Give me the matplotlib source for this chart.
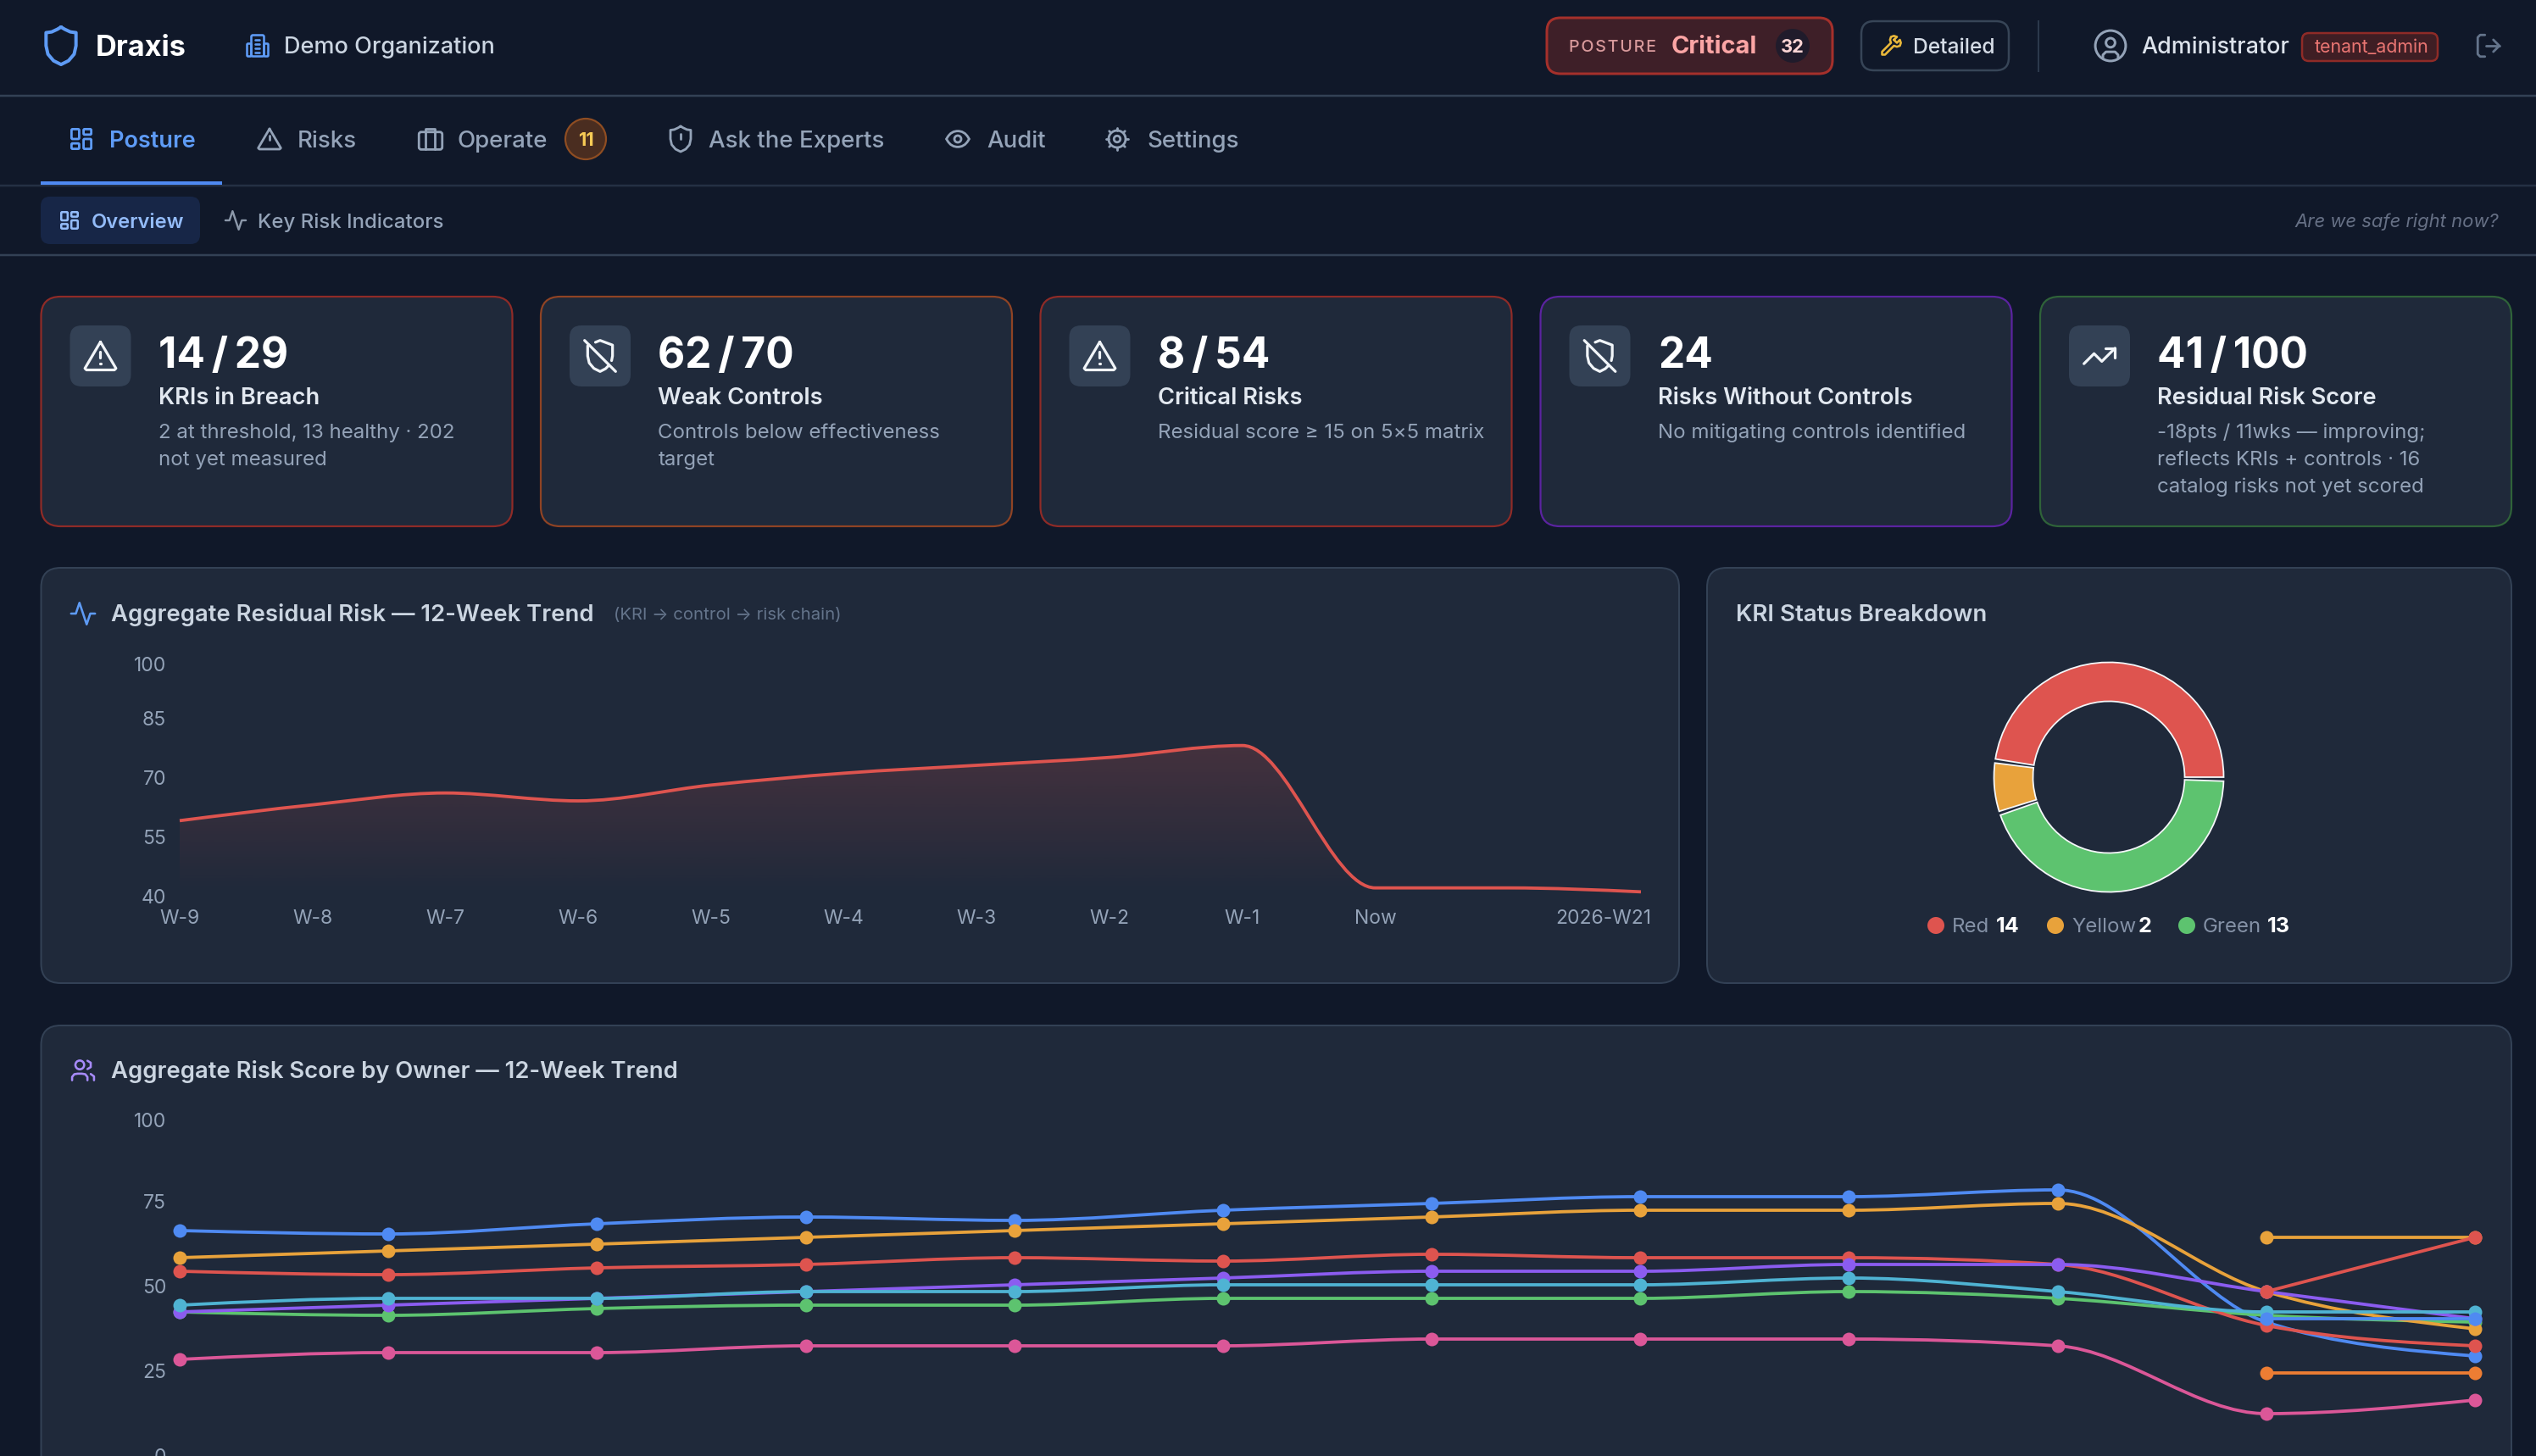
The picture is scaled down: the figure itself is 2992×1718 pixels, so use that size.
import numpy as np
import matplotlib
matplotlib.use("Agg")
import matplotlib.pyplot as plt
from matplotlib.patches import FancyBboxPatch, Circle, PathPatch, Wedge
from matplotlib.path import Path
from matplotlib.transforms import ScaledTranslation
from matplotlib.colors import to_rgb

# ---------- data ----------
residual_labels = ["W-9", "W-8", "W-7", "W-6", "W-5", "W-4", "W-3", "W-2", "W-1", "Now", "", "2026-W21"]
residual_values = [59, 63, 66, 64, 68, 71, 73, 75, 78, 42, 42, 41]
residual_yticks = [40, 55, 70, 85, 100]

kri_names = ["Red", "Yellow", "Green"]
kri_counts = [14, 2, 13]
kri_colors = ["#DE544F", "#E8A23B", "#5DC36F"]

owner_yticks = [0, 25, 50, 75, 100]
n = np.nan
owner_blue = [66, 65, 68, 70, 69, 72, 74, 76, 76, 78, 39, 29]
owner_green = [42, 41, 43, 44, 44, 46, 46, 46, 48, 46, 41, 39]
owner_pink = [28, 30, 30, 32, 32, 32, 34, 34, 34, 32, 12, 16]
owner_amber = [58, 60, 62, 64, 66, 68, 70, 72, 72, 74, 48, 37]
owner_red = [54, 53, 55, 56, 58, 57, 59, 58, 58, 56, 38, 32]
owner_purple = [42, 44, 46, 48, 50, 52, 54, 54, 56, 56, 48, 40]
owner_cyan = [44, 46, 46, 48, 48, 50, 50, 50, 52, 48, 42, 42]
owner_orange = [n, n, n, n, n, n, n, n, n, n, 24, 24]
owner_amber2 = [n, n, n, n, n, n, n, n, n, n, 64, 64]
owner_red2 = [n, n, n, n, n, n, n, n, n, n, 48, 64]
owner_blue2 = [n, n, n, n, n, n, n, n, n, n, 40, 40]

card_titles = ["14\u2009/\u200929", "62\u2009/\u200970", "8\u2009/\u200954", "24", "41\u2009/\u2009100"]
card_labels = ["KRIs in Breach", "Weak Controls", "Critical Risks", "Risks Without Controls", "Residual Risk Score"]
card_subs = [["2 at threshold, 13 healthy · 202", "not yet measured"],
             ["Controls below effectiveness", "target"],
             ["Residual score ≥ 15 on 5×5 matrix"],
             ["No mitigating controls identified"],
             ["-18pts / 11wks — improving;", "reflects KRIs + controls · 16", "catalog risks not yet scored"]]
card_edges = ["#8F2B27", "#8F4324", "#8F2B27", "#5B23A0", "#2F6339"]
card_icons = ["alert", "shieldoff", "alert", "shieldoff", "trend"]

# ---------- setup ----------
W, H = 2992, 1718
DPI = 100
PT = 72 / DPI
BG = "#101829"
CARD = "#1F293A"
LINE = "#334155"
plt.rcParams["font.family"] = ["Inter", "DejaVu Sans"]

fig = plt.figure(figsize=(W / DPI, H / DPI), dpi=DPI, facecolor=BG)
ov = fig.add_axes([0, 0, 1, 1], zorder=0)
ov.set_xlim(0, W)
ov.set_ylim(H, 0)
ov.axis("off")


def css(px):
    """CSS px at the screenshot's scale, to points."""
    return px * 1.908 * PT


def T(x, y, s, size, color, weight="normal", ha="left", **kw):
    return ov.text(x, y, s, fontsize=css(size), color=color, fontweight=weight, ha=ha, va="baseline", **kw)


def box(x0, y0, x1, y1, r, fc, ec="none", lw=1.9):
    p = FancyBboxPatch((x0, y0), x1 - x0, y1 - y0, boxstyle=f"round,pad=0,rounding_size={r}",
                       fc=fc, ec=ec, lw=lw * PT)
    ov.add_patch(p)
    return p


def hline(y, x0=0, x1=W, c=LINE, lw=2):
    ov.plot([x0, x1], [y, y], color=c, lw=lw * PT, solid_capstyle="butt")


M, L, C = Path.MOVETO, Path.LINETO, Path.CURVE4


def stroke(cx, cy, size, color, lw, polys=(), circles=(), rects=(), curves=()):
    k = size / 24
    def tx(p):
        return (cx + (p[0] - 12) * k, cy + (p[1] - 12) * k)
    for pl in polys:
        xs, ys = zip(*[tx(p) for p in pl])
        ov.plot(xs, ys, color=color, lw=lw * PT, solid_capstyle="round", solid_joinstyle="round")
    for (x, y, r) in circles:
        c = tx((x, y))
        ov.add_patch(Circle(c, r * k, fc="none", ec=color, lw=lw * PT))
    for (x, y, w, h, r) in rects:
        a = tx((x, y))
        ov.add_patch(FancyBboxPatch(a, w * k, h * k, boxstyle=f"round,pad=0,rounding_size={r * k}",
                                    fc="none", ec=color, lw=lw * PT))
    for cv in curves:
        v = [tx(p) for p in cv]
        codes = [M] + [C] * (len(v) - 1)
        ov.add_patch(PathPatch(Path(v, codes), fc="none", ec=color, lw=lw * PT, capstyle="round"))


SHIELD = [(12, 2), (14, 3.2), (17, 4.6), (20, 5), (20, 12), (19, 16.5), (16, 20), (12, 22), (8, 20), (5, 16.5), (4, 12), (4, 5), (7, 4.6), (10, 3.2), (12, 2)]
TRI = [(12, 3), (22, 20), (21, 21), (3, 21), (2, 20), (12, 3)]
ICONS = {
    "shield": dict(polys=[SHIELD]),
    "grid": dict(rects=[(3, 3, 7, 9, 1), (14, 3, 7, 5, 1), (14, 12, 7, 9, 1), (3, 16, 7, 5, 1)]),
    "alert": dict(polys=[TRI, [(12, 9), (12, 13)], [(12, 17), (12.01, 17)]]),
    "case": dict(rects=[(2, 6, 20, 15, 2)], polys=[[(8, 6), (8, 3), (16, 3), (16, 6)], [(8, 6), (8, 21)], [(16, 6), (16, 21)]]),
    "shieldalert": dict(polys=[SHIELD, [(12, 8), (12, 12)], [(12, 16), (12.01, 16)]]),
    "shieldoff": dict(polys=[[(9, 3.2), (12, 2), (20, 5), (20, 12), (19.4, 15)], [(5, 5), (4, 5.5), (4, 12), (5, 16.5), (8, 20), (12, 22), (15.5, 20.2), (17.5, 18.2)], [(2, 2), (22, 22)]]),
    "trend": dict(polys=[[(2, 17), (8.5, 10.5), (13.5, 15.5), (22, 7)], [(16, 7), (22, 7), (22, 13)]]),
    "activity": dict(polys=[[(22, 12), (18, 12), (15, 21), (9, 3), (6, 12), (2, 12)]]),
    "eye": dict(curves=[[(2, 12), (5, 6), (9, 5), (12, 5), (15, 5), (19, 6), (22, 12)], [(2, 12), (5, 18), (9, 19), (12, 19), (15, 19), (19, 18), (22, 12)]], circles=[(12, 12, 3)]),
    "gear": dict(circles=[(12, 12, 3), (12, 12, 8)], polys=[[(12, 1.5), (12, 4)], [(12, 20), (12, 22.5)], [(1.5, 12), (4, 12)], [(20, 12), (22.5, 12)], [(4.6, 4.6), (6.3, 6.3)], [(17.7, 17.7), (19.4, 19.4)], [(4.6, 19.4), (6.3, 17.7)], [(17.7, 6.3), (19.4, 4.6)]]),
    "building": dict(rects=[(6, 2, 12, 20, 1.5), (2, 10, 4, 12, 1), (18, 10, 4, 12, 1)], polys=[[(10, 6), (14, 6)], [(10, 10), (14, 10)], [(10, 14), (14, 14)], [(10, 18), (14, 18)]]),
    "user": dict(circles=[(12, 12, 10), (12, 10, 3)], polys=[[(7, 20), (7, 18), (9, 16), (15, 16), (17, 18), (17, 20)]]),
    "wrench": dict(polys=[[(15, 6), (18, 3), (15, 2), (12, 3), (11, 6), (12, 9), (3, 18), (3, 21), (6, 21), (15, 12), (18, 13), (21, 12), (22, 9), (21, 6), (18, 9), (15, 6)]]),
    "logout": dict(polys=[[(9, 3), (5, 3), (3, 5), (3, 19), (5, 21), (9, 21)], [(10, 12), (21, 12)], [(16, 7), (21, 12), (16, 17)]]),
}


def icon(name, cx, cy, size, color, lw=3.6):
    stroke(cx, cy, size, color, lw, **ICONS[name])


# ---------- header ----------
hline(113, lw=2.5)
hline(219, c="#243044", lw=2.5)
hline(301, lw=2.5)
icon("shield", 72, 54, 53, "#5E9BF5", 4)
T(113, 66, "Draxis", 18, "#FFFFFF", "bold")
icon("building", 304, 54, 30, "#5E9BF5", 2.6)
T(335, 63, "Demo Organization", 14.2, "#CBD5E1", "medium")

ov.add_patch(plt.Rectangle((48, 214), 214, 4, fc="#4F8AF2", ec="none", zorder=3))
icon("grid", 96, 164, 31, "#5E9BF5", 2.8)
T(129, 174, "Posture", 14.2, "#5E9BF5", "semibold")
icon("alert", 318, 164, 32, "#94A3B8", 2.8)
T(351, 174, "Risks", 14.5, "#94A3B8", "medium")
icon("case", 508, 164, 33, "#94A3B8", 2.8)
T(540, 174, "Operate", 14.5, "#94A3B8", "medium")
ov.add_patch(Circle((691, 164), 24, fc="#4A2D20", ec="#8F4D22", lw=2.2 * PT))
T(691, 172, "11", 11.5, "#F8CB55", "bold", ha="center")
icon("shieldalert", 803, 164, 36, "#94A3B8", 2.8)
T(836, 174, "Ask the Experts", 14.5, "#94A3B8", "medium")
icon("eye", 1130, 164, 32, "#94A3B8", 2.8)
T(1164, 174, "Audit", 14.5, "#94A3B8", "medium")
icon("gear", 1318, 164, 30, "#94A3B8", 2.8)
T(1353, 174, "Settings", 14.5, "#94A3B8", "medium")

box(48, 232, 236, 288, 11, "#172647")
icon("grid", 82, 260, 26, "#93BBF8", 2.5)
T(108, 269, "Overview", 12.4, "#93BBF8", "semibold")
icon("activity", 278, 260, 29, "#8C98AA", 2.4)
T(304, 269, "Key Risk Indicators", 12.6, "#94A3B8", "medium")
T(2948, 268, "Are we safe right now?", 11.55, "#667085", ha="right", style="italic")

box(1825, 21, 2162, 87, 16, "#3E1F28", "#A5302B", 3)
T(1851, 61, "\u200aP\u200aO\u200aS\u200aT\u200aU\u200aR\u200aE".lstrip(), 10.3, "#D99A9C", "medium")
T(1972, 63, "Critical", 15.2, "#FBA5A5", "bold")
ov.add_patch(Circle((2115, 54), 20, fc="#201B2B", ec="none"))
T(2115, 62, "32", 11.5, "#FBD5D5", "bold", ha="center")
box(2196, 25, 2370, 83, 15, "none", "#374557", 2.5)
icon("wrench", 2231, 54, 28, "#EAB83A", 2.6)
T(2257, 63, "Detailed", 12.9, "#D5DCE6", "medium")
ov.plot([2405, 2405], [25, 84], color="#2C394C", lw=2 * PT)
icon("user", 2490, 54, 43, "#94A3B8", 3)
T(2526, 63, "Administrator", 14.1, "#DDE3EC", "medium")
box(2716, 39, 2876, 72, 8, "#3F1E24", "#8F2B27", 2.5)
T(2731, 62, "tenant_admin", 11.2, "#E97572")
icon("logout", 2936, 54, 34, "#64748B", 2.8)

# ---------- KPI cards ----------
card_x = [48.5, 638, 1227.5, 1817.5, 2407]
for i, x in enumerate(card_x):
    box(x, 350, x + 556, 621, 23, CARD, card_edges[i], 2.2)
    box(x + 34, 384, x + 106, 456, 14, "#334155")
    icon(card_icons[i], x + 70, 420, 44, "#F1F5F9", 3.2)
    tx = x + 138.5
    T(tx, 434, card_titles[i], 26, "#FFFFFF", "bold")
    T(tx, 477, card_labels[i], 14.3, "#E2E8F0", "semibold")
    for j, line in enumerate(card_subs[i]):
        T(tx, 517 + 32 * j, line, 12.6, "#94A3B8")

# ---------- panels ----------
box(48.5, 670, 1981, 1160, 23, CARD, LINE, 2)
box(2014, 670, 2963, 1160, 23, CARD, LINE, 2)
box(48.5, 1210, 2963, 1800, 23, CARD, LINE, 2)
icon("activity", 98, 724, 34, "#5E9BF5", 2.6)
T(131, 733, "Aggregate Residual Risk — 12-Week Trend", 14.4, "#CBD5E1", "semibold")
T(724, 731, "(KRI → control → risk chain)", 10.65, "#64748B")
T(2048, 733, "KRI Status Breakdown", 14.5, "#CBD5E1", "semibold")
stroke(98, 1263, 31, "#A78BFA", 2.6, circles=[(9, 7, 4)],
       polys=[[(2, 21), (2, 18), (4, 15.5), (7, 15), (11, 15), (14, 15.5), (16, 18), (16, 21)],
              [(16, 3.2), (19, 5), (19, 9), (16, 10.8)], [(19, 15.3), (22, 17.5), (22, 21)]])
T(131, 1272, "Aggregate Risk Score by Owner — 12-Week Trend", 14.4, "#CBD5E1", "semibold")


def axes_px(x0, y0, x1, y1):
    ax = fig.add_axes([x0 / W, 1 - y1 / H, (x1 - x0) / W, (y1 - y0) / H], zorder=2)
    ax.patch.set_alpha(0)
    for s in ax.spines.values():
        s.set_visible(False)
    return ax


def monotone_path(x, y):
    """d3 curveMonotoneX / recharts type="monotone" as Bezier segments."""
    x = np.asarray(x, float)
    y = np.asarray(y, float)
    nn = len(x)
    if nn == 2:
        return Path(np.column_stack([x, y]), [M, L])
    h = np.diff(x)
    s = np.diff(y) / h
    t = np.zeros(nn)
    for i in range(1, nn - 1):
        p = (s[i - 1] * h[i] + s[i] * h[i - 1]) / (h[i - 1] + h[i])
        t[i] = (np.sign(s[i - 1]) + np.sign(s[i])) * min(abs(s[i - 1]), abs(s[i]), 0.5 * abs(p))
    t[0] = (3 * s[0] - t[1]) / 2
    t[-1] = (3 * s[-1] - t[-2]) / 2
    v, c = [(x[0], y[0])], [M]
    for i in range(nn - 1):
        d = h[i] / 3
        v += [(x[i] + d, y[i] + d * t[i]), (x[i + 1] - d, y[i + 1] - d * t[i + 1]), (x[i + 1], y[i + 1])]
        c += [C, C, C]
    return Path(v, c)


def style_ticks(ax, top, shift=0):
    ax.tick_params(axis="y", length=0, pad=16 * PT, labelsize=css(12), labelcolor="#94A3B8")
    ax.tick_params(axis="x", length=0, labelsize=css(12), labelcolor="#94A3B8")
    for lab in ax.get_yticklabels():
        dy = -6 if lab.get_text() == str(top) else shift
        lab.set_transform(lab.get_transform() + ScaledTranslation(0, dy / DPI, fig.dpi_scale_trans))


# ---------- residual chart ----------
ax1 = axes_px(212, 777, 1936, 1057)
xs = np.arange(len(residual_values))
ax1.set_xlim(0, 11)
ax1.set_ylim(40, 100)
ax1.set_yticks(residual_yticks, [str(v) for v in residual_yticks])
shown = [i for i, l in enumerate(residual_labels) if l]
ax1.set_xticks(shown, [residual_labels[i] for i in shown])
style_ticks(ax1, 100)
ax1.tick_params(axis="x", pad=16 * PT)
ax1.get_xticklabels()[-1].set_transform(ax1.get_xticklabels()[-1].get_transform()
                                        + ScaledTranslation(-44 / DPI, 0, fig.dpi_scale_trans))
curve = monotone_path(xs, residual_values)
fill_path = Path(list(curve.vertices) + [(11, 40), (0, 40), (0, curve.vertices[0][1])],
                 list(curve.codes) + [L, L, L])
r, g, b = to_rgb("#DE544F")
grad = np.zeros((256, 1, 4))
grad[..., 0], grad[..., 1], grad[..., 2] = r, g, b
grad[..., 3] = np.linspace(0.2, 0, 256)[:, None]
im = ax1.imshow(grad, extent=[0, 11, 40, max(residual_values)], origin="upper", aspect="auto", zorder=1)
im.set_clip_path(PathPatch(fill_path, transform=ax1.transData))
ax1.set_xlim(0, 11)
ax1.set_ylim(40, 100)
ax1.add_patch(PathPatch(curve, fc="none", ec="#DE544F", lw=3.8 * PT, zorder=2, clip_on=False, capstyle="butt"))

# ---------- donut ----------
ax2 = axes_px(2488 - 140, 917 - 140, 2488 + 140, 917 + 140)
ax2.set_xlim(-140, 140)
ax2.set_ylim(-140, 140)
ax2.set_xticks([])
ax2.set_yticks([])
pad = 2.0
span = (360 - pad * len(kri_counts)) / sum(kri_counts)
a = 0.0
for cnt, col in zip(kri_counts, kri_colors):
    ax2.add_patch(Wedge((0, 0), 135.5, a, a + cnt * span, width=46, fc=col, ec="#F4F6F8", lw=1.8 * PT))
    a += cnt * span + pad

leg_x = [(2284, 2303, 2355), (2425, 2444, 2523), (2580, 2599, 2675)]
for (dx, nx, vx), nm, cnt, col in zip(leg_x, kri_names, kri_counts, kri_colors):
    ov.add_patch(Circle((dx, 1092), 10, fc=col, ec="none"))
    T(nx, 1100, nm, 12.6, "#8491A6")
    T(vx, 1100, str(cnt), 13.2, "#FFFFFF", "bold")

# ---------- owner chart ----------
ax3 = axes_px(212, 1316, 2920, 1716)
ax3.set_xlim(0, 11)
ax3.set_ylim(0, 100)
ax3.set_yticks(owner_yticks, [str(v) for v in owner_yticks])
ax3.set_xticks([])
style_ticks(ax3, 100, shift=-2)
series = [(owner_blue, "#4F8AF2"), (owner_green, "#5DC36F"), (owner_pink, "#DB5798"),
          (owner_amber, "#E8A23B"), (owner_red, "#DE544F"), (owner_purple, "#8B5CF0"),
          (owner_cyan, "#4FB3D3"), (owner_orange, "#ED7D33"), (owner_amber2, "#E8A23B"),
          (owner_red2, "#DE544F"), (owner_blue2, "#4F8AF2")]
for zi, (vals, col) in enumerate(series):
    vals = np.asarray(vals, float)
    ok = ~np.isnan(vals)
    xv = np.arange(len(vals))[ok]
    ax3.add_patch(PathPatch(monotone_path(xv, vals[ok]), fc="none", ec=col, lw=3.8 * PT,
                            zorder=3 + zi, clip_on=False))
    ax3.plot(xv, vals[ok], "o", ms=16 * PT, color=col, mec="none", zorder=3 + zi, clip_on=False)

fig.savefig("out.png", dpi=DPI, facecolor=BG)
